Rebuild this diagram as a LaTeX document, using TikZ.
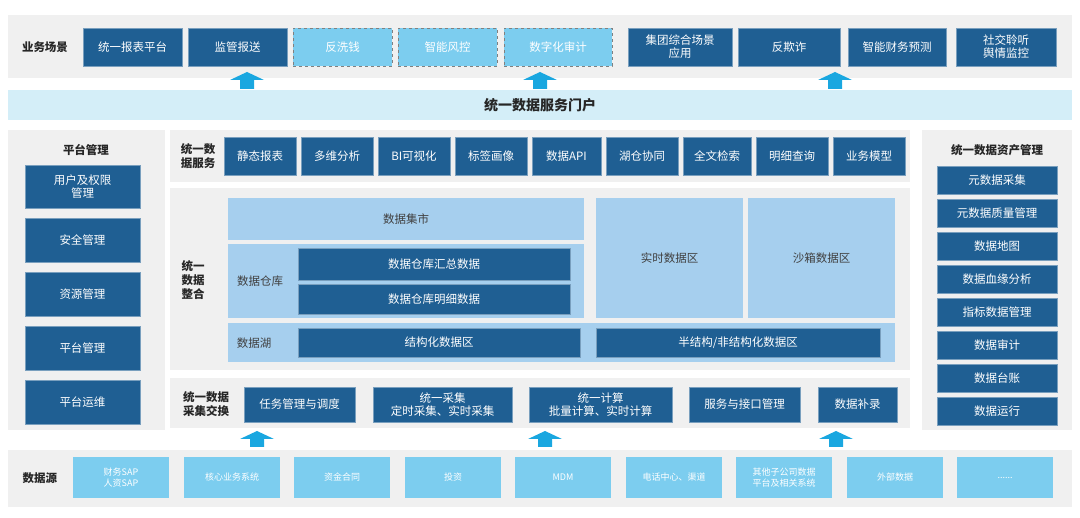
\documentclass[tikz,border=0pt]{standalone}
\usepackage{fontspec}
\setmainfont{Noto Sans CJK SC}
\definecolor{dk}{HTML}{1F5F93}
\definecolor{lc}{HTML}{7CCDEF}
\definecolor{lb}{HTML}{A6CFEE}
\definecolor{gr}{HTML}{F0F0F0}
\definecolor{pt}{HTML}{D4EEF8}
\definecolor{ar}{HTML}{1AA7E0}
\tikzset{
 dkbox/.style={fill=dk,draw=dk!60!white,text=white,font=\fontsize{11.5}{13}\selectfont,align=center,inner sep=0pt},
 lcbox/.style={fill=lc,draw=gray,dashed,text=white,font=\fontsize{11.5}{13}\selectfont,align=center,inner sep=0pt},
 srcbox/.style={fill=lc,draw=none,text=white,font=\fontsize{9}{11}\selectfont,align=center,inner sep=0pt},
 lbbox/.style={fill=lb,draw=none,text=black!75,font=\fontsize{11.5}{13}\selectfont,align=center,inner sep=0pt},
 panel/.style={fill=gr,draw=none},
 lbl/.style={font=\bfseries\fontsize{11.5}{14}\selectfont,align=left,text=black!85,inner sep=0pt},
}
\newcommand{\bx}[7]{\node[#1,minimum width={(#5-#3)*1pt},minimum height={(#6-#4)*1pt}] (#2) at ({(#3+#5)/2},{(#4+#6)/2}) {#7};}
\newcommand{\uparr}[3]{\fill[ar] ({#1-7},{#3}) -- ({#1-7},{#2+8}) -- ({#1-17},{#2+8}) -- ({#1},{#2}) -- ({#1+17},{#2+8}) -- ({#1+7},{#2+8}) -- ({#1+7},{#3}) -- cycle;}
\begin{document}
\begin{tikzpicture}[x=1pt,y=-1pt]
\useasboundingbox (0,0) rectangle (1080,518);
% top
\bx{panel}{top}{8}{15}{1072}{78}{}
\node[lbl] (tl) at (45,47) {业务场景};
\bx{dkbox}{t1}{83}{28}{182}{66}{统一报表平台}
\bx{dkbox}{t2}{188}{28}{287}{66}{监管报送}
\bx{lcbox}{t3}{293}{28}{392}{66}{反洗钱}
\bx{lcbox}{t4}{398}{28}{497}{66}{智能风控}
\bx{lcbox}{t5}{504}{28}{612}{66}{数字化审计}
\bx{dkbox}{t6}{628}{28}{732}{66}{集团综合场景\\应用}
\bx{dkbox}{t7}{738}{28}{840}{66}{反欺诈}
\bx{dkbox}{t8}{848}{28}{946}{66}{智能财务预测}
\bx{dkbox}{t9}{956}{28}{1056}{66}{社交聆听\\舆情监控}
\uparr{247}{72}{89}\uparr{540}{72}{89}\uparr{835}{72}{89}
\path[fill=pt] (8,90) rectangle (1072,120);
\node[font=\bfseries\fontsize{14}{16}\selectfont,text=black!85] (pl) at (540,105) {统一数据服务门户};
% left
\bx{panel}{lp}{8}{130}{165}{430}{}
\node[lbl] (lpt) at (86,150) {平台管理};
\bx{dkbox}{l1}{25}{165}{140}{208}{用户及权限\\管理}
\bx{dkbox}{l2}{25}{218}{140}{262}{安全管理}
\bx{dkbox}{l3}{25}{272}{140}{316}{资源管理}
\bx{dkbox}{l4}{25}{326}{140}{370}{平台管理}
\bx{dkbox}{l5}{25}{380}{140}{424}{平台运维}
% right
\bx{panel}{rp}{922}{130}{1072}{430}{}
\node[lbl] (rpt) at (997,150) {统一数据资产管理};
\bx{dkbox}{r0}{937}{166}{1057}{194}{元数据采集}
\bx{dkbox}{r1}{937}{199}{1057}{227}{元数据质量管理}
\bx{dkbox}{r2}{937}{232}{1057}{260}{数据地图}
\bx{dkbox}{r3}{937}{265}{1057}{293}{数据血缘分析}
\bx{dkbox}{r4}{937}{298}{1057}{326}{指标数据管理}
\bx{dkbox}{r5}{937}{331}{1057}{359}{数据审计}
\bx{dkbox}{r6}{937}{364}{1057}{392}{数据台账}
\bx{dkbox}{r7}{937}{397}{1057}{425}{数据运行}
% service
\bx{panel}{sp}{170}{130}{910}{182}{}
\node[lbl] (spl) at (198,156) {统一数\\据服务};
\bx{dkbox}{s1}{224}{137}{296}{175}{静态报表}
\bx{dkbox}{s2}{301}{137}{373}{175}{多维分析}
\bx{dkbox}{s3}{378}{137}{450}{175}{BI可视化}
\bx{dkbox}{s4}{455}{137}{527}{175}{标签画像}
\bx{dkbox}{s5}{532}{137}{601}{175}{数据API}
\bx{dkbox}{s6}{606}{137}{678}{175}{湖仓协同}
\bx{dkbox}{s7}{683}{137}{751}{175}{全文检索}
\bx{dkbox}{s8}{756}{137}{828}{175}{明细查询}
\bx{dkbox}{s9}{833}{137}{905}{175}{业务模型}
% integration
\bx{panel}{ip}{170}{188}{910}{370}{}
\node[lbl] (ipl) at (193,280) {统一\\数据\\整合};
\bx{lbbox}{mart}{228}{198}{584}{240}{数据集市}
\bx{lbbox}{dw}{228}{244}{584}{318}{}
\node[font=\fontsize{11.5}{13}\selectfont,text=black!75] (dwl) at (260,281) {数据仓库};
\bx{dkbox}{dw1}{298}{248}{570}{280}{数据仓库汇总数据}
\bx{dkbox}{dw2}{298}{284}{570}{314}{数据仓库明细数据}
\bx{lbbox}{rt}{596}{198}{743}{318}{实时数据区}
\bx{lbbox}{sb}{748}{198}{895}{318}{沙箱数据区}
\bx{lbbox}{lake}{228}{323}{895}{362}{}
\node[font=\fontsize{11.5}{13}\selectfont,text=black!75] (lkl) at (254,343) {数据湖};
\bx{dkbox}{lk1}{298}{328}{580}{357}{结构化数据区}
\bx{dkbox}{lk2}{596}{328}{880}{357}{半结构/非结构化数据区}
% collection
\bx{panel}{cp}{170}{378}{910}{428}{}
\node[lbl] (cpl) at (206,404) {统一数据\\采集交换};
\bx{dkbox}{c1}{244}{387}{355}{422}{任务管理与调度}
\bx{dkbox}{c2}{373}{387}{512}{422}{统一采集\\定时采集、实时采集}
\bx{dkbox}{c3}{529}{387}{672}{422}{统一计算\\批量计算、实时计算}
\bx{dkbox}{c4}{689}{387}{800}{422}{服务与接口管理}
\bx{dkbox}{c5}{818}{387}{897}{422}{数据补录}
\uparr{257}{431}{447}\uparr{545}{431}{447}\uparr{836}{431}{447}
% sources
\bx{panel}{dp}{8}{450}{1072}{507}{}
\node[lbl] (dpl) at (40,478) {数据源};
\bx{srcbox}{d0}{73}{457}{169}{498}{财务SAP\\人资SAP}
\bx{srcbox}{d1}{184}{457}{280}{498}{核心业务系统}
\bx{srcbox}{d2}{294}{457}{390}{498}{资金合同}
\bx{srcbox}{d3}{405}{457}{501}{498}{投资}
\bx{srcbox}{d4}{515}{457}{611}{498}{MDM}
\bx{srcbox}{d5}{626}{457}{722}{498}{电话中心、渠道}
\bx{srcbox}{d6}{736}{457}{832}{498}{其他子公司数据\\平台及相关系统}
\bx{srcbox}{d7}{847}{457}{943}{498}{外部数据}
\bx{srcbox}{d8}{957}{457}{1053}{498}{{.}{.}{.}{.}{.}{.}}
\end{tikzpicture}
\end{document}
